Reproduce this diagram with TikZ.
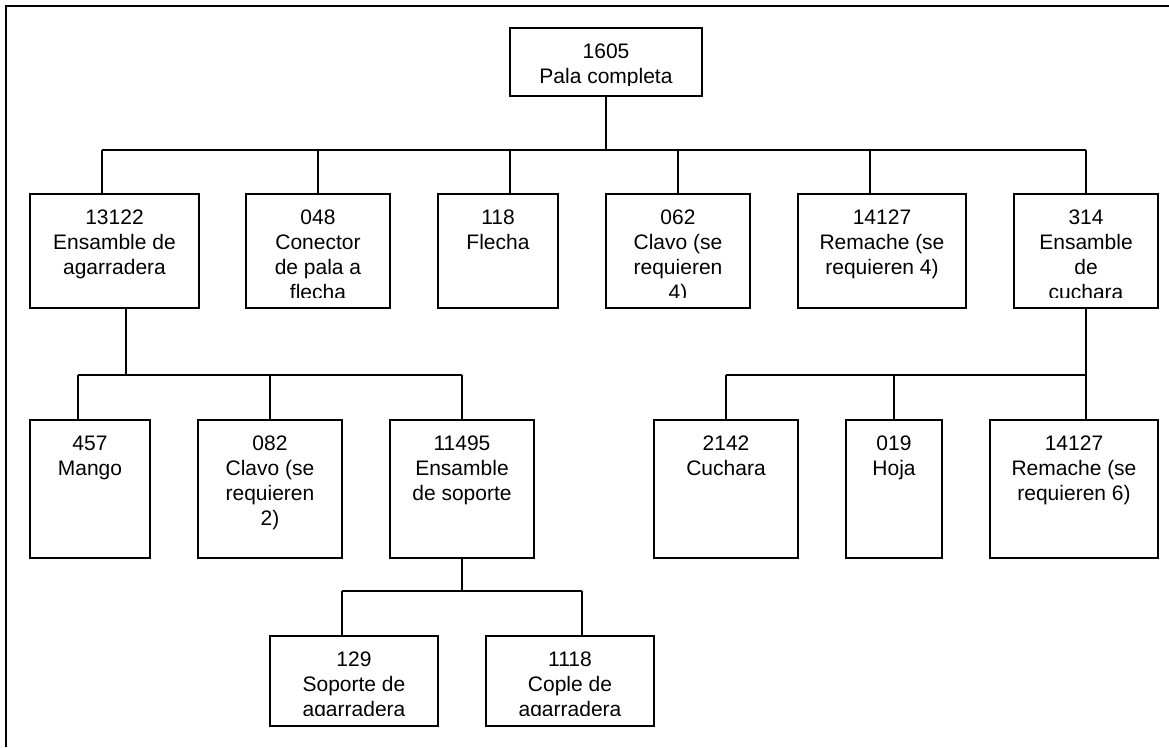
\documentclass[tikz,border=0pt]{standalone}
\usepackage{fontspec}
\setmainfont{Liberation Sans}
\usetikzlibrary{calc,fit}

\tikzset{
  x=0.75pt, y=-0.75pt,
  partbox/.style={draw, line width=1.4pt, inner sep=0pt},
  parttext/.style={align=center, inner sep=0pt, anchor=north,
    font=\fontsize{15.75}{18.75}\selectfont},
  link/.style={line width=1.4pt},
  frameline/.style={line width=1.6pt},
}

% \partbox{name}{left}{top}{right}{bottom}{text}
% the text is clipped a little above the bottom edge of its box
\newcommand\partbox[6]{%
  \coordinate (#1-nw) at (#2,#3);
  \coordinate (#1-se) at (#4,#5);
  \node[partbox, fit=(#1-nw)(#1-se)] (#1) {};
  \begin{scope}
    \clip (#2,#3) rectangle (#4,#5-11);
    \node[parttext] (#1-t) at ($(#1.north)+(0,16.5)$) {#6};
  \end{scope}
}

\begin{document}
\begin{tikzpicture}
\useasboundingbox (0,0) rectangle (1169,747);

% page frame (top and left edges)
\draw[frameline] (6,747) -- (6,6) -- (1169,6);

% parts
\partbox{root}{510}{28}{702}{96}{1605\\Pala completa}

\partbox{a}{30}{194}{199}{308}{13122\\Ensamble de\\agarradera}
\partbox{b}{246}{194}{390}{308}{048\\Conector\\de pala a\\flecha}
\partbox{c}{438}{194}{558}{308}{118\\Flecha}
\partbox{d}{606}{194}{750}{308}{062\\Clavo (se\\requieren\\4)}
\partbox{e}{798}{194}{966}{308}{14127\\Remache (se\\requieren 4)}
\partbox{f}{1014}{194}{1158}{308}{314\\Ensamble\\de\\cuchara}

\partbox{g}{30}{420}{150}{558}{457\\Mango}
\partbox{h}{198}{420}{342}{558}{082\\Clavo (se\\requieren\\2)}
\partbox{i}{390}{420}{534}{558}{11495\\Ensamble\\de soporte}

\partbox{j}{654}{420}{798}{558}{2142\\Cuchara}
\partbox{k}{846}{420}{942}{558}{019\\Hoja}
\partbox{l}{990}{420}{1158}{558}{14127\\Remache (se\\requieren 6)}

\partbox{m}{270}{636}{438}{726}{129\\Soporte de\\agarradera}
\partbox{n}{486}{636}{654}{726}{1118\\Cople de\\agarradera}

% connection points that are off the box centres
\coordinate (a-in)  at (102,194);
\coordinate (a-out) at (126,308);
\coordinate (c-in)  at (510,194);
\coordinate (e-in)  at (870,194);
\coordinate (g-in)  at (78,420);
\coordinate (l-in)  at (1086,420);
\coordinate (m-in)  at (342,636);
\coordinate (n-in)  at (582,636);

% bus lines
\coordinate (bus0) at (606,150);
\coordinate (busA) at (126,375);
\coordinate (busF) at (1086,375);
\coordinate (busI) at (462,591);

% level 1
\draw[link] (root.south) -- (bus0);
\draw[link] (a-in |- bus0) -- (f.north |- bus0);
\foreach \p in {a-in, b.north, c-in, d.north, e-in, f.north}
  \draw[link] (\p) -- (\p |- bus0);

% handle assembly
\draw[link] (a-out) -- (busA);
\draw[link] (g-in |- busA) -- (i.north |- busA);
\foreach \p in {g-in, h.north, i.north}
  \draw[link] (\p) -- (\p |- busA);

% support assembly
\draw[link] (i.south) -- (busI);
\draw[link] (m-in |- busI) -- (n-in |- busI);
\foreach \p in {m-in, n-in}
  \draw[link] (\p) -- (\p |- busI);

% scoop assembly
\draw[link] (f.south) -- (busF);
\draw[link] (j.north |- busF) -- (l-in |- busF);
\foreach \p in {j.north, k.north, l-in}
  \draw[link] (\p) -- (\p |- busF);
\end{tikzpicture}
\end{document}
